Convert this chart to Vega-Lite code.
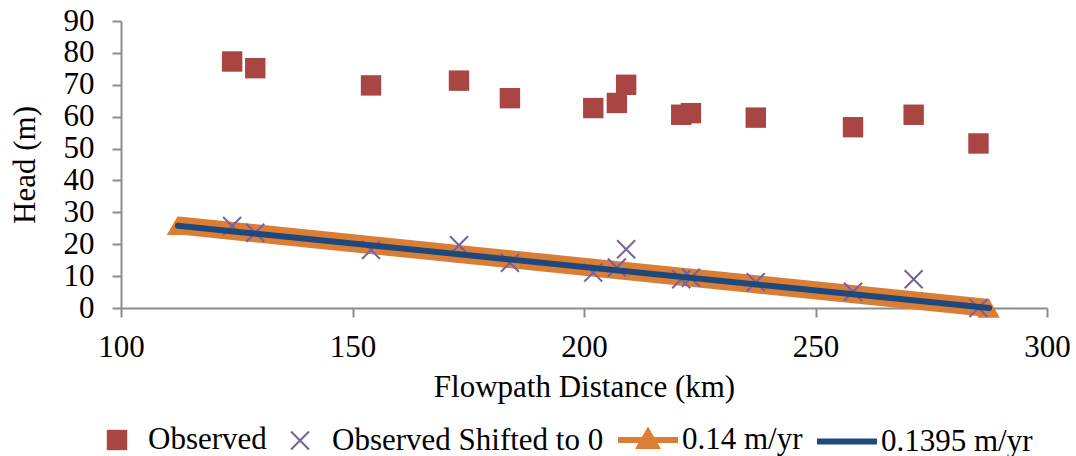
{
  "$schema": "https://vega.github.io/schema/vega-lite/v6.json",
  "autosize": {"type": "none"},
  "width": 926,
  "height": 287,
  "padding": {"left": 121, "top": 21, "right": 29, "bottom": 148},
  "background": "white",
  "config": {
    "font": "Liberation Serif",
    "view": {"stroke": null},
    "axis": {
      "grid": false,
      "domainColor": "#8C8C8C",
      "domainWidth": 2,
      "tickColor": "#8C8C8C",
      "tickWidth": 2,
      "tickSize": 9,
      "labelFont": "Liberation Serif",
      "labelFontSize": 31,
      "labelColor": "#000000",
      "labelFlush": false,
      "labelOverlap": false,
      "titleFont": "Liberation Serif",
      "titleFontSize": 31,
      "titleFontWeight": "normal",
      "titleColor": "#000000"
    },
    "legend": {
      "orient": "none",
      "legendX": -34,
      "legendY": 386,
      "direction": "horizontal",
      "title": null,
      "symbolSize": 3600,
      "symbolOffset": 0,
      "labelFont": "Liberation Serif",
      "labelFontSize": 31,
      "labelColor": "#000000",
      "labelLimit": 500,
      "labelOffset": 1,
      "columnPadding": 2,
      "padding": 0
    }
  },
  "datasets": {
    "wells": [
      {"dist": 124.0, "head": 77.3, "series": "Observed"},
      {"dist": 129.0, "head": 75.2, "series": "Observed"},
      {"dist": 154.0, "head": 69.8, "series": "Observed"},
      {"dist": 173.0, "head": 71.3, "series": "Observed"},
      {"dist": 184.0, "head": 65.8, "series": "Observed"},
      {"dist": 202.0, "head": 62.7, "series": "Observed"},
      {"dist": 207.1, "head": 64.3, "series": "Observed"},
      {"dist": 209.1, "head": 70.0, "series": "Observed"},
      {"dist": 221.0, "head": 60.6, "series": "Observed"},
      {"dist": 223.1, "head": 61.1, "series": "Observed"},
      {"dist": 237.1, "head": 59.7, "series": "Observed"},
      {"dist": 258.1, "head": 56.7, "series": "Observed"},
      {"dist": 271.2, "head": 60.6, "series": "Observed"},
      {"dist": 285.2, "head": 51.6, "series": "Observed"},
      {"dist": 124.0, "head": 25.7, "series": "Observed Shifted to 0"},
      {"dist": 129.0, "head": 23.6, "series": "Observed Shifted to 0"},
      {"dist": 154.0, "head": 18.2, "series": "Observed Shifted to 0"},
      {"dist": 173.0, "head": 19.7, "series": "Observed Shifted to 0"},
      {"dist": 184.0, "head": 14.2, "series": "Observed Shifted to 0"},
      {"dist": 202.0, "head": 11.1, "series": "Observed Shifted to 0"},
      {"dist": 207.1, "head": 12.7, "series": "Observed Shifted to 0"},
      {"dist": 209.1, "head": 18.4, "series": "Observed Shifted to 0"},
      {"dist": 221.0, "head": 9.0, "series": "Observed Shifted to 0"},
      {"dist": 223.1, "head": 9.5, "series": "Observed Shifted to 0"},
      {"dist": 237.1, "head": 8.1, "series": "Observed Shifted to 0"},
      {"dist": 258.1, "head": 5.1, "series": "Observed Shifted to 0"},
      {"dist": 271.2, "head": 9.0, "series": "Observed Shifted to 0"},
      {"dist": 285.2, "head": 0.0, "series": "Observed Shifted to 0"}
    ],
    "fits": [
      {"dist": 112.3, "head": 25.9, "series": "0.14 m/yr"},
      {"dist": 287.4, "head": 0.0, "series": "0.14 m/yr"},
      {"dist": 112.3, "head": 25.8, "series": "0.1395 m/yr"},
      {"dist": 287.5, "head": 0.0, "series": "0.1395 m/yr"}
    ]
  },
  "encoding": {
    "x": {
      "field": "dist",
      "type": "quantitative",
      "scale": {"domain": [100, 300], "nice": false, "zero": false},
      "axis": {
        "values": [100, 150, 200, 250, 300],
        "title": "Flowpath Distance (km)",
        "labelBaseline": "alphabetic",
        "labelPadding": 39,
        "titleBaseline": "alphabetic",
        "titleX": 463,
        "titleY": 88
      }
    },
    "y": {
      "field": "head",
      "type": "quantitative",
      "scale": {"domain": [0, 90], "nice": false},
      "axis": {
        "values": [0, 10, 20, 30, 40, 50, 60, 70, 80, 90],
        "title": "Head (m)",
        "labelPadding": 18,
        "titleAngle": -90,
        "titleBaseline": "middle",
        "titleX": -96,
        "titleY": 143.5
      }
    }
  },
  "layer": [
    {
      "data": {"name": "fits"},
      "transform": [{"filter": "datum.series === '0.14 m/yr'"}],
      "mark": {"type": "line", "color": "#DB7E35", "strokeWidth": 18, "strokeCap": "butt"}
    },
    {
      "data": {"name": "fits"},
      "transform": [{"filter": "datum.series === '0.14 m/yr'"}],
      "mark": {"type": "point", "shape": "triangle-up", "filled": true, "color": "#DB7E35", "size": 500, "opacity": 1}
    },
    {
      "data": {"name": "wells"},
      "mark": {"type": "point", "size": 3600, "opacity": 1},
      "encoding": {
        "shape": {
          "field": "series",
          "type": "nominal",
          "scale": {
            "domain": ["Observed", "Observed Shifted to 0", "0.14 m/yr", "0.1395 m/yr"],
            "range": [
              "M-0.34,-0.34H0.34V0.34H-0.34Z",
              "M-0.3,-0.3L0.3,0.3M-0.3,0.3L0.3,-0.3",
              "M-1,0H1M0,-0.25L0.26,0.2L-0.26,0.2Z",
              "M-1,0H1"
            ]
          }
        },
        "fill": {
          "field": "series",
          "type": "nominal",
          "scale": {
            "domain": ["Observed", "Observed Shifted to 0", "0.14 m/yr", "0.1395 m/yr"],
            "range": ["#A94542", "transparent", "#DB7E35", "transparent"]
          }
        },
        "stroke": {
          "field": "series",
          "type": "nominal",
          "scale": {
            "domain": ["Observed", "Observed Shifted to 0", "0.14 m/yr", "0.1395 m/yr"],
            "range": ["transparent", "#7660A2", "#DB7E35", "#1F497D"]
          }
        },
        "strokeWidth": {
          "field": "series",
          "type": "nominal",
          "scale": {
            "type": "ordinal",
            "domain": ["Observed", "Observed Shifted to 0", "0.14 m/yr", "0.1395 m/yr"],
            "range": [0, 2, 6, 6]
          }
        }
      }
    },
    {
      "data": {"name": "fits"},
      "transform": [{"filter": "datum.series === '0.1395 m/yr'"}],
      "mark": {"type": "line", "color": "#1F497D", "strokeWidth": 6, "strokeCap": "round"}
    }
  ]
}
